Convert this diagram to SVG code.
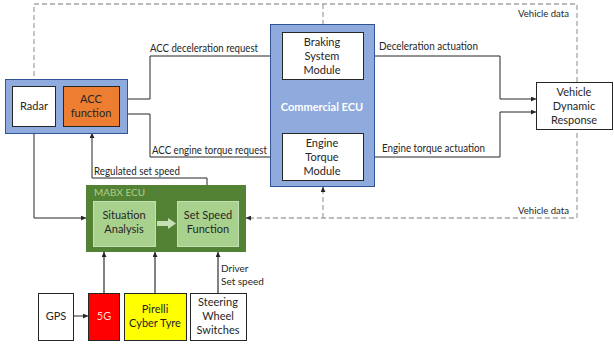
<svg xmlns="http://www.w3.org/2000/svg" width="614" height="346" viewBox="0 0 614 346">
<defs>
<marker id="ah" viewBox="0 0 6 6" refX="6" refY="3" markerWidth="5" markerHeight="5" orient="auto" markerUnits="userSpaceOnUse"><path d="M0,0 L6,3 L0,6 Z" fill="#262626"/></marker>
<marker id="ahg" viewBox="0 0 6 6" refX="6" refY="3" markerWidth="5" markerHeight="5" orient="auto" markerUnits="userSpaceOnUse"><path d="M0,0 L6,3 L0,6 Z" fill="#262626"/></marker>
</defs>
<style>
text{font-family:Lato,"Liberation Sans",sans-serif;font-size:11px;fill:#262626}
.lbl{font-size:10px}
.cl{font-size:10.5px}
.c{text-anchor:middle}
.box{fill:#fff;stroke:#262626;stroke-width:1}
.ln{fill:none;stroke:#262626;stroke-width:1}
.gl{fill:none;stroke:#595959;stroke-width:1.5}
.ds{fill:none;stroke:#A6A6A6;stroke-width:1.3;stroke-dasharray:5,3}
</style>
<g id="connectors">
<path class="ds" d="M34,84 V4 H577 V218 H249"/>
<path class="ln" d="M34,81 V84" marker-end="url(#ah)"/>
<path class="ds" d="M323,4 V31"/>
<path class="ln" d="M323,29 V32" marker-end="url(#ah)"/>
<path class="ds" d="M323,218 V188"/>
<path class="ln" d="M323,190 V187" marker-end="url(#ah)"/>
<path class="ln" d="M250,218 H246" marker-end="url(#ah)"/>
<path class="ln" d="M55,107 H63" marker-end="url(#ah)"/>
<path class="ln" d="M128,99 H150 V56 H282" marker-end="url(#ah)"/>
<path class="ln" d="M128,114 H150 V157 H282" marker-end="url(#ah)"/>
<path class="ln" d="M363,56 H500 V99 H536" marker-end="url(#ah)"/>
<path class="ln" d="M363,157 H500 V112 H536" marker-end="url(#ah)"/>
<path class="ln" d="M207,201 V178 H92 V133" marker-end="url(#ah)"/>
<path class="ln" d="M34,133 V218 H86" marker-end="url(#ah)"/>
<path class="ln" d="M73,316 H88" marker-end="url(#ah)"/>
<path class="gl" d="M104,293 V252" marker-end="url(#ahg)"/>
<path class="gl" d="M155,293 V252" marker-end="url(#ahg)"/>
<path class="gl" d="M218,293 V252" marker-end="url(#ahg)"/>
<text x="150" y="52" class="cl" textLength="108" lengthAdjust="spacingAndGlyphs">ACC deceleration request</text>
<text x="152" y="154" class="cl" textLength="115" lengthAdjust="spacingAndGlyphs">ACC engine torque request</text>
<text x="379" y="50" class="cl" textLength="99" lengthAdjust="spacingAndGlyphs">Deceleration actuation</text>
<text x="382" y="152" class="cl" textLength="103" lengthAdjust="spacingAndGlyphs">Engine torque actuation</text>
<text x="518" y="17" class="lbl" textLength="51" lengthAdjust="spacingAndGlyphs">Vehicle data</text>
<text x="518" y="214" class="lbl" textLength="51" lengthAdjust="spacingAndGlyphs">Vehicle data</text>
<text x="94" y="175" class="cl" textLength="86" lengthAdjust="spacingAndGlyphs">Regulated set speed</text>
<text x="221" y="272" class="lbl">Driver</text>
<text x="221" y="285" class="lbl">Set speed</text>
</g>
<g id="acc-group">
<rect x="5.5" y="79.5" width="122" height="54" fill="#8FAADC" stroke="#2F5597" stroke-width="1"/>
</g>
<g id="radar">
<rect class="box" x="12.5" y="86.5" width="43" height="40"/>
<text x="34" y="110" class="c">Radar</text>
</g>
<g id="acc-function">
<rect x="63.5" y="86.5" width="56" height="40" fill="#ED7D31" stroke="#262626"/>
<text x="91" y="103" class="c">ACC</text>
<text x="91" y="117" class="c">function</text>
</g>
<g id="commercial-ecu">
<rect x="270.5" y="24.5" width="104" height="162" fill="#8FAADC" stroke="#2F5597" stroke-width="1"/>
<text x="322" y="111" class="c" style="fill:#fff;font-weight:bold">Commercial ECU</text>
</g>
<g id="braking">
<rect class="box" x="282.5" y="32.5" width="81" height="47"/>
<text x="322" y="46" class="c">Braking</text>
<text x="322" y="60" class="c">System</text>
<text x="322" y="74" class="c">Module</text>
</g>
<g id="engine">
<rect class="box" x="282.5" y="133.5" width="81" height="47"/>
<text x="322" y="147" class="c">Engine</text>
<text x="322" y="161" class="c">Torque</text>
<text x="322" y="175" class="c">Module</text>
</g>
<g id="vehicle">
<rect class="box" x="536.5" y="82.5" width="76" height="47"/>
<text x="574" y="96" class="c">Vehicle</text>
<text x="574" y="110" class="c">Dynamic</text>
<text x="574" y="124" class="c">Response</text>
</g>
<g id="mabx">
<rect x="86" y="185" width="160" height="67" fill="#548235"/>
<text x="94" y="196" class="lbl" style="fill:#A9D18E">MABX ECU</text>
</g>
<g id="situation">
<rect x="93.5" y="201.5" width="62" height="45" fill="#A9D18E" stroke="#C5E0B4"/>
<text x="124" y="219" class="c">Situation</text>
<text x="124" y="233" class="c">Analysis</text>
</g>
<g id="setspeed">
<rect x="177.5" y="201.5" width="61" height="45" fill="#A9D18E" stroke="#C5E0B4"/>
<text x="208" y="219" class="c">Set Speed</text>
<text x="208" y="233" class="c">Function</text>
</g>
<g id="sa-ss-arrow">
<path d="M157,221 H168 V218 L176,223.5 L168,229 V226 H157 Z" fill="#C5E0B4"/>
</g>
<g id="gps">
<rect class="box" x="38.5" y="293.5" width="35" height="47"/>
<text x="56" y="320" class="c">GPS</text>
</g>
<g id="fiveg">
<rect x="88.5" y="293.5" width="31" height="47" fill="#FF0000" stroke="#262626"/>
<text x="104" y="320" class="c" style="fill:#FFD7D7">5G</text>
</g>
<g id="pirelli">
<rect x="124.5" y="293.5" width="62" height="47" fill="#FFFF00" stroke="#262626"/>
<text x="155" y="313" class="c">Pirelli</text>
<text x="155" y="327" class="c">Cyber Tyre</text>
</g>
<g id="steering">
<rect class="box" x="190.5" y="293.5" width="56" height="47"/>
<text x="218" y="306" class="c">Steering</text>
<text x="218" y="320" class="c">Wheel</text>
<text x="218" y="334" class="c">Switches</text>
</g>
</svg>
